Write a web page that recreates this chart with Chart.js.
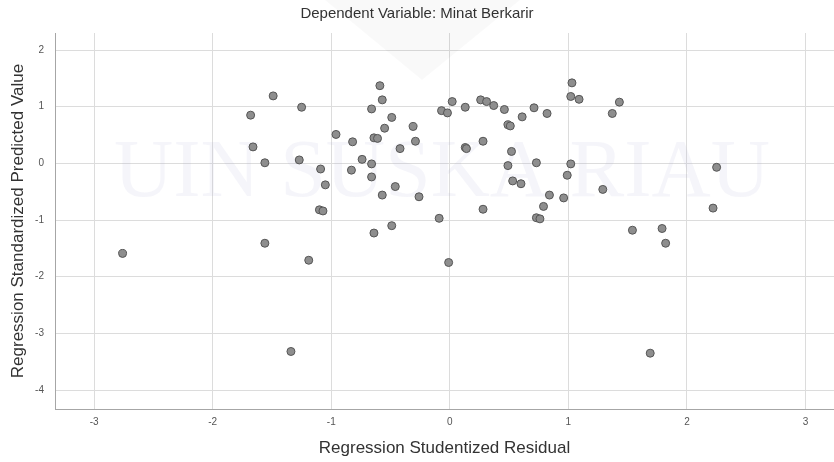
<!DOCTYPE html>
<html>
<head>
<meta charset="utf-8">
<script src="https://cdn.jsdelivr.net/npm/chart.js@4.4.1/dist/chart.umd.min.js"></script>
<style>
  html, body { margin: 0; padding: 0; background: #ffffff; overflow: hidden; }
  #wrap { width: 834px; height: 462px; position: relative; }
  canvas { display: block; }
</style>
</head>
<body>
<div id="wrap"><canvas id="c" width="834" height="462"></canvas></div>
<script>
// ---- data ----
const chartTitle = "Dependent Variable: Minat Berkarir";
const xTitle = "Regression Studentized Residual";
const yTitle = "Regression Standardized Predicted Value";
const watermarkText = "UIN SUSKA RIAU";

const xTicks = [-3, -2, -1, 0, 1, 2, 3];
const yTicks = [-4, -3, -2, -1, 0, 1, 2];

const residuals = [
  -2.76, -1.68, -1.66, -1.56, -1.56, -1.49, -1.34, -1.27, -1.25, -1.19,
  -1.10, -1.07, -1.09, -1.05, -0.96, -0.83, -0.82, -0.74, -0.66, -0.66,
  -0.66, -0.64, -0.61, -0.64, -0.59, -0.57, -0.57, -0.55, -0.49, -0.49,
  -0.46, -0.42, -0.31, -0.29, -0.26, -0.09, -0.07, -0.02, -0.01, 0.02,
  0.13, 0.13, 0.14, 0.26, 0.31, 0.28, 0.28, 0.37, 0.46, 0.49,
  0.51, 0.52, 0.49, 0.53, 0.60, 0.61, 0.71, 0.73, 0.73, 0.76,
  0.79, 0.82, 0.84, 0.96, 0.99, 1.02, 1.02, 1.03, 1.09, 1.29,
  1.37, 1.43, 1.54, 1.69, 1.79, 1.82, 2.22, 2.25
];
const predicted = [
  -1.59, 0.85, 0.29, 0.01, -1.41, 1.19, -3.32, 0.06, 0.99, -1.71,
  -0.82, -0.84, -0.10, -0.38, 0.51, -0.12, 0.38, 0.07, 0.96, -0.01,
  -0.24, 0.45, 0.44, -1.23, 1.37, 1.12, -0.56, 0.62, 0.81, -1.10,
  -0.41, 0.26, 0.65, 0.39, -0.59, -0.97, 0.93, 0.89, -1.75, 1.09,
  0.99, 0.28, 0.26, 1.12, 1.09, 0.39, -0.81, 1.02, 0.95, 0.68,
  0.66, 0.21, -0.04, -0.31, -0.36, 0.82, 0.98, 0.01, -0.96, -0.98,
  -0.76, 0.88, -0.56, -0.61, -0.21, -0.01, 1.18, 1.42, 1.13, -0.46,
  0.88, 1.08, -1.18, -3.35, -1.15, -1.41, -0.79, -0.07
];

const points = residuals.map((x, i) => ({ x: x, y: predicted[i] }));

const FONT = 'Arial, "Liberation Sans", sans-serif';

const watermark = {
  id: 'watermark',
  beforeDatasetsDraw(chart) {
    const ctx = chart.ctx;
    ctx.save();
    // faint chevron of the logo
    ctx.fillStyle = 'rgba(0,0,0,0.022)';
    ctx.beginPath();
    ctx.moveTo(325, 0);
    ctx.lineTo(520, 0);
    ctx.lineTo(422, 80);
    ctx.closePath();
    ctx.fill();
    // faint text watermark
    ctx.font = '82px "Liberation Serif", "DejaVu Serif", serif';
    ctx.fillStyle = 'rgba(170,170,215,0.12)';
    ctx.textAlign = 'center';
    ctx.textBaseline = 'alphabetic';
    ctx.fillText(watermarkText, 442, 196);
    ctx.restore();
  }
};

new Chart(document.getElementById('c'), {
  type: 'scatter',
  data: {
    datasets: [{
      data: points,
      pointRadius: 4,
      pointHoverRadius: 4,
      pointBackgroundColor: '#8e8e8e',
      pointBorderColor: '#555555',
      pointBorderWidth: 1
    }]
  },
  plugins: [watermark],
  options: {
    responsive: false,
    animation: false,
    devicePixelRatio: 1,
    layout: { autoPadding: false, padding: 0 },
    plugins: {
      legend: { display: false },
      tooltip: { enabled: false },
      title: {
        display: true,
        text: chartTitle,
        color: '#333333',
        font: { family: FONT, size: 15, weight: 'normal', lineHeight: 1.2 },
        padding: { top: 5, bottom: 10 }
      }
    },
    scales: {
      x: {
        type: 'linear',
        min: -3.33,
        max: 3.24,
        afterBuildTicks(scale) { scale.ticks = xTicks.map(v => ({ value: v })); },
        afterFit(scale) { scale.height = 53; scale.paddingLeft = 0; scale.paddingRight = 0; },
        grid: { color: '#dcdcdc', lineWidth: 1, drawTicks: false },
        border: { display: true, color: '#a6a6a6', width: 1 },
        ticks: {
          color: '#555555',
          padding: 7,
          font: { family: FONT, size: 10 }
        },
        title: {
          display: true,
          text: xTitle,
          color: '#333333',
          font: { family: FONT, size: 17, weight: 'normal', lineHeight: 1.2 },
          padding: { top: 0, bottom: 3 }
        }
      },
      y: {
        type: 'linear',
        min: -4.335,
        max: 2.3,
        afterBuildTicks(scale) { scale.ticks = yTicks.map(v => ({ value: v })); },
        afterFit(scale) { scale.width = 55; scale.paddingTop = 0; scale.paddingBottom = 0; },
        grid: { color: '#dcdcdc', lineWidth: 1, drawTicks: false },
        border: { display: true, color: '#a6a6a6', width: 1 },
        ticks: {
          color: '#555555',
          padding: 11,
          font: { family: FONT, size: 10 }
        },
        title: {
          display: true,
          text: yTitle,
          color: '#333333',
          font: { family: FONT, size: 17, weight: 'normal', lineHeight: 1.2 },
          padding: { top: 8, bottom: 0 }
        }
      }
    }
  }
});
</script>
</body>
</html>
